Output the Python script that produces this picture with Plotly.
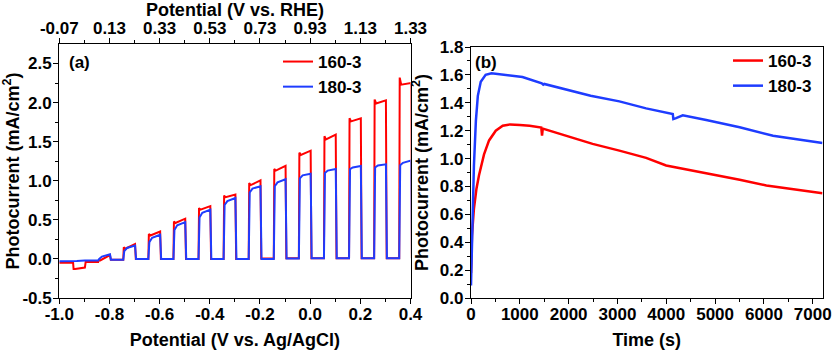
import plotly.graph_objects as go
import numpy as np

# ---------------- Panel (a): chopped LSV ----------------
light_on = [-0.945, -0.845, -0.745, -0.645, -0.545, -0.445, -0.345, -0.245, -0.145, -0.045, 0.055, 0.155, 0.255, 0.355]
light_off = [-0.898, -0.798, -0.698, -0.598, -0.498, -0.398, -0.298, -0.198, -0.098, 0.002, 0.102, 0.202, 0.302, 0.402]

red_dark = [-0.05, -0.04, -0.01, 0.0, 0.0, 0.0, 0.0, 0.0, 0.005, 0.01, 0.01, 0.01, 0.01, 0.01, 0.01]
red_spike = [-0.13, -0.02, 0.15, 0.32, 0.48, 0.65, 0.81, 0.97, 1.15, 1.36, 1.57, 1.80, 2.04, 2.32]
red_on_start = [-0.13, -0.02, 0.13, 0.30, 0.46, 0.63, 0.79, 0.945, 1.13, 1.33, 1.53, 1.76, 1.99, 2.23]
red_on_end = [-0.11, 0.05, 0.19, 0.35, 0.515, 0.675, 0.825, 1.005, 1.19, 1.385, 1.59, 1.80, 2.03, 2.25]

blue_dark = [-0.03, -0.02, -0.01, 0.0, 0.0, 0.0, 0.0, 0.0, 0.0, 0.005, 0.01, 0.01, 0.01, 0.01, 0.01]
blue_on_start = [-0.03, 0.0, 0.10, 0.215, 0.37, 0.53, 0.69, 0.85, 0.93, 1.03, 1.10, 1.15, 1.17, 1.20]
blue_on_mid = [-0.025, 0.03, 0.14, 0.27, 0.43, 0.59, 0.74, 0.90, 0.98, 1.07, 1.13, 1.17, 1.195, 1.23]
blue_on_end = [-0.02, 0.06, 0.17, 0.31, 0.47, 0.63, 0.78, 0.93, 1.02, 1.09, 1.15, 1.19, 1.21, 1.26]

# axis tick labels
a_x_ticks = [-1.0, -0.8, -0.6, -0.4, -0.2, 0.0, 0.2, 0.4]
a_x_labels = ["-1.0", "-0.8", "-0.6", "-0.4", "-0.2", "0.0", "0.2", "0.4"]
a_top_ticks = [-0.07, 0.13, 0.33, 0.53, 0.73, 0.93, 1.13, 1.33]
a_top_labels = ["-0.07", "0.13", "0.33", "0.53", "0.73", "0.93", "1.13", "1.33"]
a_y_ticks = [-0.5, 0.0, 0.5, 1.0, 1.5, 2.0, 2.5]
a_y_labels = ["-0.5", "0.0", "0.5", "1.0", "1.5", "2.0", "2.5"]

# ---------------- Panel (b): chronoamperometry ----------------
time_red = [0, 20, 60, 110, 164, 267, 370, 507, 650, 800, 1000, 1200, 1440, 1455, 1470, 1700, 1944,
            2491, 3039, 3587, 3997, 4545, 5024, 5503, 6050, 6598, 7200]
cur_red = [0.18, 0.45, 0.64, 0.78, 0.88, 1.03, 1.13, 1.20, 1.235, 1.245, 1.24, 1.235, 1.222, 1.165, 1.215, 1.19, 1.164,
           1.105, 1.057, 1.005, 0.95, 0.914, 0.879, 0.848, 0.807, 0.783, 0.752]
time_blue = [0, 25, 60, 100, 140, 200, 300, 420, 700, 1054, 1450, 1480, 1500, 1944, 2450, 3039, 3449, 3587,
             4133, 4145, 4200, 4338, 4818, 5503, 6187, 6734, 7200]
cur_blue = [0.09, 0.55, 0.95, 1.27, 1.45, 1.55, 1.60, 1.612, 1.60, 1.585, 1.54, 1.53, 1.535, 1.495, 1.45, 1.41, 1.37, 1.36,
            1.32, 1.283, 1.29, 1.31, 1.276, 1.224, 1.164, 1.136, 1.112]

RED = "#FF0000"
BLUE = "#1E3CFF"
FONT = "Liberation Sans"


def build_red():
    x, y = [-1.0], [red_dark[0]]
    for i in range(len(light_on)):
        x += [light_on[i], light_on[i] + 0.002, light_on[i] + 0.008, light_off[i], light_off[i] + 0.003]
        y += [red_dark[i], red_spike[i], red_on_start[i], red_on_end[i], red_dark[i + 1]]
    return x, y


def build_blue():
    x, y = [-1.0], [blue_dark[0]]
    for i in range(len(light_on)):
        x += [light_on[i], light_on[i] + 0.004, light_on[i] + 0.015, light_off[i], light_off[i] + 0.004]
        y += [blue_dark[i], blue_on_start[i], blue_on_mid[i], blue_on_end[i], blue_dark[i + 1]]
    return x, y


rx, ry = build_red()
bx, by = build_blue()

fig = go.Figure()
fig.add_trace(go.Scatter(x=rx, y=ry, mode="lines", name="160-3", line=dict(color=RED, width=2),
                         xaxis="x", yaxis="y", legend="legend"))
fig.add_trace(go.Scatter(x=bx, y=by, mode="lines", name="180-3", line=dict(color=BLUE, width=2),
                         xaxis="x", yaxis="y", legend="legend"))
# invisible trace to anchor the top RHE axis
fig.add_trace(go.Scatter(x=[a_top_ticks[0], a_top_ticks[-1]], y=[0, 0], mode="lines", line=dict(width=0),
                         opacity=0, showlegend=False, hoverinfo="skip", xaxis="x3", yaxis="y"))

fig.add_trace(go.Scatter(x=time_red, y=cur_red, mode="lines", name="160-3", line=dict(color=RED, width=2.5),
                         xaxis="x2", yaxis="y2", legend="legend2"))
fig.add_trace(go.Scatter(x=time_blue, y=cur_blue, mode="lines", name="180-3", line=dict(color=BLUE, width=2.5),
                         xaxis="x2", yaxis="y2", legend="legend2"))

tickfont = dict(family=FONT, size=17, color="black", weight="bold")
titlefont = dict(family=FONT, size=18, color="black", weight="bold")
common = dict(showline=True, linecolor="black", linewidth=1.3, ticks="outside", ticklen=5, tickwidth=1.3,
              tickcolor="black", showgrid=False, zeroline=False, tickfont=tickfont, automargin=False)
minor_style = dict(ticks="outside", ticklen=3, tickwidth=1.3, tickcolor="black")

W, H = 832, 350
ax_dom = [59.3 / W, 410.5 / W]
bx_dom = [471 / W, 822.5 / W]
ay_dom = [52 / H, 306 / H]
by_dom = [52 / H, 303 / H]

fig.update_layout(
    width=W, height=H, margin=dict(l=0, r=0, t=0, b=0),
    paper_bgcolor="white", plot_bgcolor="white",
    font=dict(family=FONT, color="black"),
    xaxis=dict(domain=ax_dom, anchor="y", range=[-1.0, 0.4], tickmode="array", tickvals=a_x_ticks,
               ticktext=a_x_labels, ticklabelstandoff=-5,
               minor=dict(tickvals=list(np.round(np.arange(-0.9, 0.4, 0.2), 2)), **minor_style),
               title=dict(text="Potential (V vs. Ag/AgCl)", font=titlefont, standoff=11), **common),
    xaxis3=dict(overlaying="x", side="top", anchor="y", range=[-0.07, 1.33], tickmode="array",
                tickvals=a_top_ticks, ticktext=a_top_labels, ticklabelstandoff=-3,
                minor=dict(tickvals=list(np.round(np.arange(0.03, 1.33, 0.2), 2)), **minor_style),
                title=dict(text="Potential (V vs. RHE)", font=titlefont, standoff=7), **common),
    yaxis=dict(domain=ay_dom, anchor="x", range=[-0.5, 2.75], tickmode="array", tickvals=a_y_ticks,
               ticktext=a_y_labels, mirror=True, ticklabelstandoff=-2,
               minor=dict(tickvals=list(np.round(np.arange(-0.25, 2.75, 0.5), 2)), **minor_style),
               title=dict(text="Photocurrent (mA/cm<sup>2</sup>)", font=titlefont, standoff=8), **common),
    xaxis2=dict(domain=bx_dom, anchor="y2", range=[0, 7200], dtick=1000, tick0=0, mirror=True,
                ticklabelstandoff=-5, minor=dict(dtick=500, **minor_style),
                title=dict(text="Time (s)", font=titlefont, standoff=11), **common),
    yaxis2=dict(domain=by_dom, anchor="x2", range=[0, 1.8], dtick=0.2, tick0=0, tickformat=".1f", mirror=True,
                ticklabelstandoff=-2, minor=dict(dtick=0.1, **minor_style),
                title=dict(text="Photocurrent (mA/cm<sup>2</sup>)", font=titlefont, standoff=6), **common),
    legend=dict(x=278 / W, y=1 - 44 / H, xanchor="left", yanchor="top", bgcolor="rgba(0,0,0,0)",
                font=dict(family=FONT, size=17, color="black", weight="bold"), tracegroupgap=0),
    legend2=dict(x=728 / W, y=1 - 43 / H, xanchor="left", yanchor="top", bgcolor="rgba(0,0,0,0)",
                 font=dict(family=FONT, size=17, color="black", weight="bold"), tracegroupgap=0),
    annotations=[
        dict(text="(a)", x=67 / W, y=1 - 63 / H, xref="paper", yref="paper", xanchor="left", yanchor="middle",
             showarrow=False, font=dict(family=FONT, size=17, color="black", weight="bold")),
        dict(text="(b)", x=473 / W, y=1 - 63 / H, xref="paper", yref="paper", xanchor="left", yanchor="middle",
             showarrow=False, font=dict(family=FONT, size=17, color="black", weight="bold")),
    ],
)

fig.write_html("out.html")
